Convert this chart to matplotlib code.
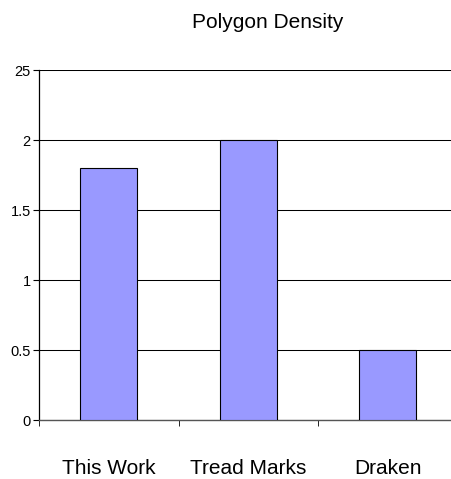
import matplotlib
matplotlib.use("Agg")
import matplotlib.pyplot as plt
import numpy as np

plt.rcParams['font.family'] = ['Liberation Sans', 'DejaVu Sans']

categories = ['This Work', 'Tread Marks', 'Draken']
density = [1.8, 2.0, 0.5]
yticks = [0, 0.5, 1, 1.5, 2, 2.5]
ytick_labels = ['0', '0.5', '1', '1.5', '2', '25']

fig = plt.figure(figsize=(4.51, 4.79), dpi=100)
ax = fig.add_axes([39 / 451, 59 / 479, 418.5 / 451, 350 / 479])

x = np.arange(len(categories))
ax.bar(x, density, width=0.41, color='#9999ff', edgecolor='black',
       linewidth=0.8, zorder=3)

ax.set_xlim(-0.5, len(categories) - 0.5)
ax.set_ylim(0, 2.5)
ax.set_yticks(yticks)
ax.set_yticklabels(ytick_labels, fontsize=10.5)
ax.yaxis.grid(True, color='black', linewidth=0.75, zorder=0)

ax.set_xticks(x)
ax.set_xticklabels(categories, fontsize=15)
ax.set_xticks(np.arange(-0.5, len(categories)), minor=True)
ax.tick_params(axis='x', which='major', length=0, pad=28)
ax.tick_params(axis='x', which='minor', length=4, direction='out')
ax.tick_params(axis='y', length=4, direction='out', pad=2)

for s in ['top', 'right']:
    ax.spines[s].set_visible(False)
ax.spines['left'].set_linewidth(0.9)
ax.spines['bottom'].set_color('#555555')
ax.spines['bottom'].set_linewidth(1.0)

fig.text(267.5 / 451, 1 - 28 / 479, 'Polygon Density', ha='center',
         va='baseline', fontsize=15)

fig.savefig('out.png', dpi=100)
